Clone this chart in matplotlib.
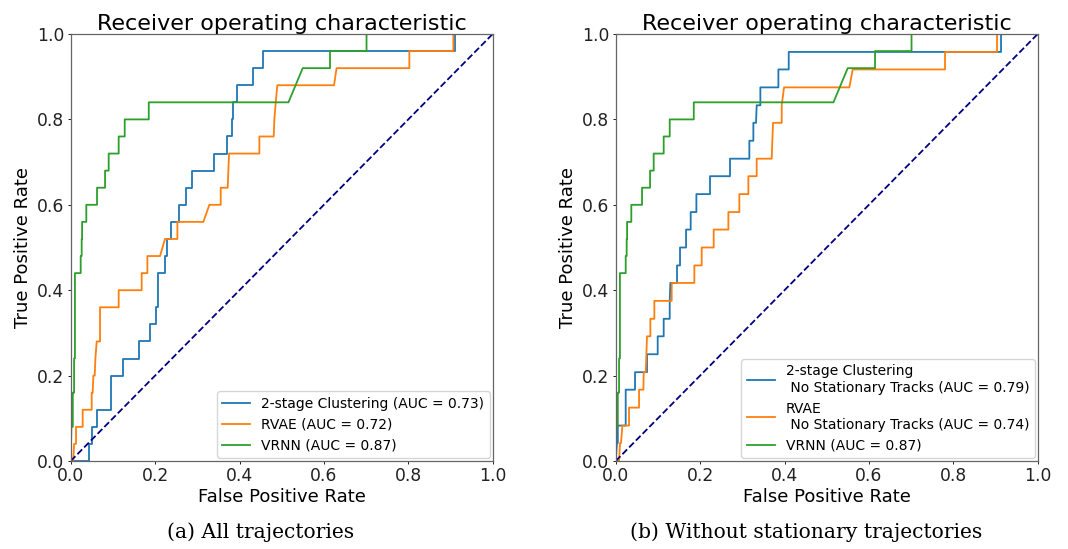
import matplotlib
matplotlib.use("Agg")
import matplotlib.pyplot as plt

# ---- ROC curve points (false positive rate, true positive rate) ----
# (a) all trajectories
clust_all_fpr = [0, 0.044, 0.044, 0.050, 0.050, 0.0616, 0.0616, 0.0956, 0.0956, 0.123, 0.123,
                 0.163, 0.163, 0.188, 0.188, 0.201, 0.201, 0.207, 0.207, 0.2235, 0.2235, 0.228,
                 0.228, 0.2385, 0.2385, 0.2575, 0.2575, 0.2733, 0.2733, 0.2883, 0.2883, 0.3389,
                 0.3389, 0.3712, 0.3712, 0.3823, 0.3823, 0.3847, 0.3847, 0.394, 0.394, 0.4329,
                 0.4329, 0.455, 0.455, 0.9107, 0.9107, 1.0]
clust_all_tpr = [0, 0, 0.04, 0.04, 0.08, 0.08, 0.12, 0.12, 0.20, 0.20, 0.24,
                 0.24, 0.28, 0.28, 0.32, 0.32, 0.36, 0.36, 0.44, 0.44, 0.48, 0.48,
                 0.52, 0.52, 0.56, 0.56, 0.60, 0.60, 0.64, 0.64, 0.68, 0.68,
                 0.72, 0.72, 0.76, 0.76, 0.80, 0.80, 0.84, 0.84, 0.88, 0.88,
                 0.92, 0.92, 0.96, 0.96, 1.0, 1.0]

rvae_all_fpr = [0, 0.006, 0.008, 0.0126, 0.0126, 0.0284, 0.0284, 0.0498, 0.0498, 0.0521, 0.0537,
                0.0569, 0.0585, 0.0616, 0.0695, 0.0695, 0.1137, 0.1137, 0.1682, 0.1682, 0.1817,
                0.1817, 0.2117, 0.2235, 0.2528, 0.2528, 0.3144, 0.3286, 0.3555, 0.3555, 0.372,
                0.3736, 0.3752, 0.4471, 0.4471, 0.481, 0.4826, 0.4858, 0.4897, 0.624, 0.630,
                0.8025, 0.8025, 0.9068, 0.9068, 1.0]
rvae_all_tpr = [0, 0, 0.04, 0.04, 0.08, 0.08, 0.12, 0.12, 0.16, 0.16, 0.20,
                0.20, 0.24, 0.28, 0.28, 0.36, 0.36, 0.40, 0.40, 0.44, 0.44,
                0.48, 0.48, 0.52, 0.52, 0.56, 0.56, 0.60, 0.60, 0.64, 0.64,
                0.68, 0.72, 0.72, 0.76, 0.76, 0.80, 0.84, 0.88, 0.88, 0.92,
                0.92, 0.96, 0.96, 1.0, 1.0]

vrnn_fpr = [0, 0.0016, 0.005, 0.005, 0.008, 0.008, 0.010, 0.010, 0.0237, 0.0237, 0.026,
            0.026, 0.027, 0.027, 0.037, 0.037, 0.0624, 0.0624, 0.0814, 0.0814, 0.090,
            0.090, 0.1137, 0.1137, 0.128, 0.128, 0.185, 0.185, 0.516, 0.5498, 0.6145,
            0.6145, 0.701, 0.701, 1.0]
vrnn_tpr = [0, 0.08, 0.08, 0.16, 0.16, 0.24, 0.24, 0.44, 0.44, 0.48, 0.48,
            0.52, 0.52, 0.56, 0.56, 0.60, 0.60, 0.64, 0.64, 0.68, 0.68,
            0.72, 0.72, 0.76, 0.76, 0.80, 0.80, 0.84, 0.84, 0.92, 0.92,
            0.96, 0.96, 1.0, 1.0]

# (b) without stationary trajectories
clust_ns_fpr = [0, 0.003, 0.005, 0.005, 0.0237, 0.0237, 0.0458, 0.0458, 0.0742, 0.0742, 0.0995,
                0.0995, 0.1137, 0.1137, 0.128, 0.128, 0.1295, 0.1453, 0.1453, 0.1524, 0.1524,
                0.1667, 0.1667, 0.1777, 0.1777, 0.1912, 0.1912, 0.2235, 0.2235, 0.2709, 0.2709,
                0.3167, 0.3167, 0.3262, 0.3262, 0.3325, 0.3341, 0.3428, 0.3428, 0.3855, 0.3855,
                0.41, 0.41, 0.9131, 0.9131, 1.0]
clust_ns_tpr = [0, 0.042, 0.042, 0.083, 0.083, 0.167, 0.167, 0.208, 0.208, 0.25, 0.25,
                0.292, 0.292, 0.333, 0.333, 0.375, 0.417, 0.417, 0.458, 0.458, 0.5,
                0.5, 0.542, 0.542, 0.583, 0.583, 0.625, 0.625, 0.667, 0.667, 0.708,
                0.708, 0.75, 0.75, 0.792, 0.792, 0.833, 0.833, 0.875, 0.875, 0.917,
                0.917, 0.958, 0.958, 1.0, 1.0]

rvae_ns_fpr = [0, 0.008, 0.0103, 0.0126, 0.0158, 0.0316, 0.0316, 0.0553, 0.0553, 0.0656, 0.0664,
               0.0711, 0.0727, 0.0742, 0.0821, 0.0821, 0.0916, 0.0916, 0.1327, 0.1327, 0.1864,
               0.1864, 0.2038, 0.2038, 0.2322, 0.2322, 0.267, 0.267, 0.293, 0.293, 0.3144,
               0.3144, 0.3341, 0.3341, 0.3697, 0.3712, 0.3728, 0.3934, 0.3934, 0.3989, 0.5537,
               0.5616, 0.7804, 0.7804, 0.9036, 0.9036, 1.0]
rvae_ns_tpr = [0, 0, 0.042, 0.042, 0.083, 0.083, 0.125, 0.125, 0.167, 0.167, 0.208,
               0.208, 0.25, 0.292, 0.292, 0.333, 0.333, 0.375, 0.375, 0.417, 0.417,
               0.458, 0.458, 0.5, 0.5, 0.542, 0.542, 0.583, 0.583, 0.625, 0.625,
               0.667, 0.667, 0.708, 0.708, 0.75, 0.792, 0.792, 0.833, 0.875, 0.875,
               0.917, 0.917, 0.958, 0.958, 1.0, 1.0]

labels_all = ["2-stage Clustering (AUC = 0.73)", "RVAE (AUC = 0.72)", "VRNN (AUC = 0.87)"]
labels_ns = ["2-stage Clustering\n No Stationary Tracks (AUC = 0.79)",
             "RVAE\n No Stationary Tracks (AUC = 0.74)",
             "VRNN (AUC = 0.87)"]
ticks = [0.0, 0.2, 0.4, 0.6, 0.8, 1.0]
captions = ["(a) All trajectories", "(b) Without stationary trajectories"]

colors = ["#1f77b4", "#ff7f0e", "#2ca02c"]

W, H = 1068, 549
fig = plt.figure(figsize=(W / 100, H / 100), dpi=100)


def px_axes(x0, x1, y0, y1):
    return fig.add_axes([x0 / W, 1 - y1 / H, (x1 - x0) / W, (y1 - y0) / H])


def draw_panel(ax, curves, labels):
    for (fpr, tpr), lab, c in zip(curves, labels, colors):
        ax.plot(fpr, tpr, color=c, lw=1.3, label=lab)
    ax.plot([0, 1], [0, 1], color="navy", lw=1.3, linestyle="--")
    ax.set_xlim(0, 1)
    ax.set_ylim(0, 1)
    ax.set_xticks(ticks)
    ax.set_yticks(ticks)
    ax.tick_params(labelsize=12.3, length=2.5, width=0.7, pad=2, colors="#222222")
    for s in ax.spines.values():
        s.set_color("#666666")
        s.set_linewidth(0.9)
    ax.set_xlabel("False Positive Rate", fontsize=13, labelpad=2)
    ax.set_ylabel("True Positive Rate", fontsize=13, labelpad=4)
    ax.set_title("Receiver operating characteristic", fontsize=16, pad=3)
    ax.legend(loc="lower right", fontsize=10, borderaxespad=0.2, framealpha=0.8,
              handlelength=2.0)


ax1 = px_axes(70.7, 492.7, 34, 461)
draw_panel(ax1, [(clust_all_fpr, clust_all_tpr), (rvae_all_fpr, rvae_all_tpr),
                 (vrnn_fpr, vrnn_tpr)], labels_all)

ax2 = px_axes(615.7, 1037.7, 34, 461)
draw_panel(ax2, [(clust_ns_fpr, clust_ns_tpr), (rvae_ns_fpr, rvae_ns_tpr),
                 (vrnn_fpr, vrnn_tpr)], labels_ns)

fig.text(260.5 / W, 1 - 532 / H, captions[0], family="DejaVu Serif", fontsize=14.6,
         ha="center", va="center")
fig.text(806 / W, 1 - 532 / H, captions[1], family="DejaVu Serif", fontsize=14.6,
         ha="center", va="center")

fig.savefig("out.png", dpi=100)
